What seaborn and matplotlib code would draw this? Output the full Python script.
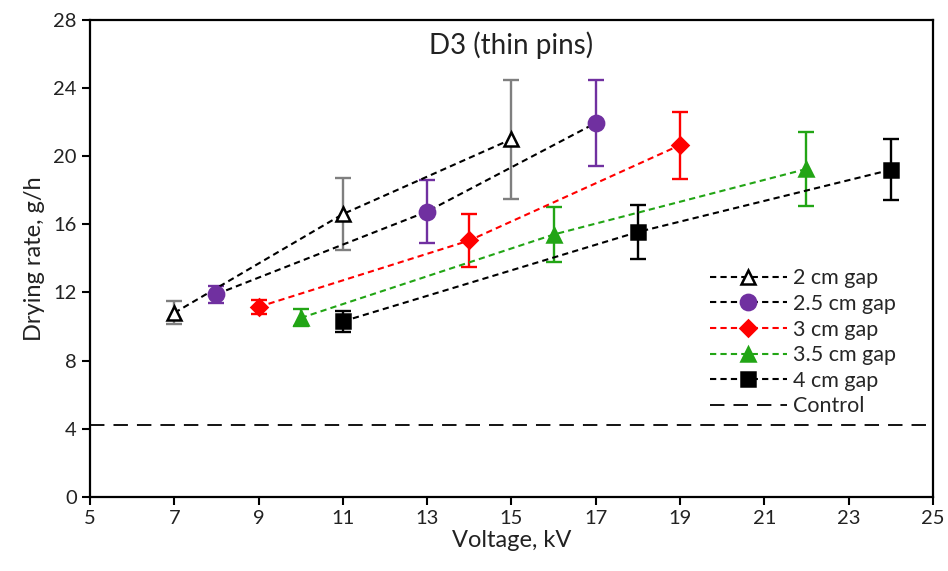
import numpy as np
import pandas as pd
import matplotlib.pyplot as plt
import seaborn as sns

sns.set_theme(style="ticks")
plt.rcParams['font.family'] = ['Lato', 'DejaVu Sans']

# Datos
series = ['2 cm gap', '2.5 cm gap', '3 cm gap', '3.5 cm gap', '4 cm gap']
volt_2 = [7, 11, 15]
rate_2 = [10.8, 16.6, 21.0]
err_2 = [0.67, 2.1, 3.5]

volt_25 = [8, 13, 17]
rate_25 = [11.9, 16.75, 21.95]
err_25 = [0.5, 1.85, 2.55]

volt_3 = [9, 14, 19]
rate_3 = [11.15, 15.05, 20.65]
err_3 = [0.4, 1.53, 1.96]

volt_35 = [10, 16, 22]
rate_35 = [10.5, 15.4, 19.25]
err_35 = [0.5, 1.63, 2.15]

volt_4 = [11, 18, 24]
rate_4 = [10.3, 15.55, 19.2]
err_4 = [0.63, 1.56, 1.8]

control = 4.2

voltajes = [volt_2, volt_25, volt_3, volt_35, volt_4]
tasas = [rate_2, rate_25, rate_3, rate_35, rate_4]
errores = [err_2, err_25, err_3, err_35, err_4]

# estilos
line_cols = ['black', 'black', '#ff0000', '#22a515', 'black']
err_cols = ['#7f7f7f', '#7030a0', '#ff0000', '#22a515', 'black']
mk_face = ['white', '#7030a0', '#ff0000', '#22a515', 'black']
mk_edge = ['black', '#7030a0', '#ff0000', '#22a515', 'black']
markers = ['^', 'o', 'D', '^', 's']
msizes = [10, 11, 8.5, 10, 9.5]

fig, ax = plt.subplots(figsize=(9.48, 5.71), dpi=100)
fig.subplots_adjust(left=0.095, right=0.984, bottom=0.13, top=0.965)

ax.axhline(control, color='black', lw=1.3, ls=(0, (8, 5)), label='Control', zorder=1)

for nom, x, y, e, lc, ec, fc, edc, m, ms in zip(series, voltajes, tasas, errores,
                                               line_cols, err_cols, mk_face, mk_edge,
                                               markers, msizes):
    df = pd.DataFrame({'Voltaje': x, 'Tasa': y})
    ax.errorbar(x, y, yerr=e, fmt='none', ecolor=ec, elinewidth=1.7,
                capsize=6, capthick=1.7, zorder=2)
    sns.lineplot(data=df, x='Voltaje', y='Tasa', ax=ax, color=lc, lw=1.5,
                 ls=(0, (3, 2)), marker=m, markersize=ms, markerfacecolor=fc,
                 markeredgecolor=edc, markeredgewidth=1.8, label=nom, zorder=3)

ax.set_xlim(5, 25)
ax.set_ylim(0, 28)
ax.set_xticks(np.arange(5, 26, 2))
ax.set_yticks(np.arange(0, 29, 4))
ax.tick_params(axis='both', direction='out', length=6, width=1.5,
               labelsize=14.5, color='black', labelcolor='#222222')
for sp in ax.spines.values():
    sp.set_color('black')
    sp.set_linewidth(1.6)

ax.set_xlabel('Voltage, kV', fontsize=17, color='#222222', labelpad=2)
ax.set_ylabel('Drying rate, g/h', fontsize=17, color='#222222', labelpad=6)
ax.text(15, 26.5, 'D3 (thin pins)', ha='center', va='center', fontsize=20, color='#222222')

h, l = ax.get_legend_handles_labels()
orden = [l.index(s) for s in series] + [l.index('Control')]
ax.legend([h[i] for i in orden], [l[i] for i in orden], loc='upper left',
          bbox_to_anchor=(0.725, 0.497), frameon=False, fontsize=15.5,
          handlelength=3.6, handletextpad=0.25, labelspacing=0.26,
          borderaxespad=0)

plt.savefig('out.png', dpi=100)
